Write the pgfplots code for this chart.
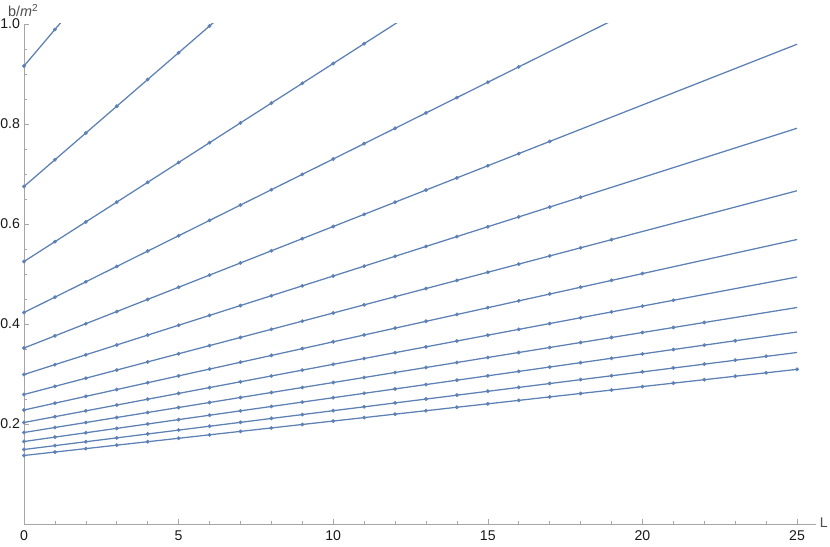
\documentclass[border=0pt]{standalone}
\usepackage{pgfplots}
\pgfplotsset{compat=1.18}
\usepackage{fontspec}
\setmainfont{Liberation Sans}
\definecolor{mblue}{rgb}{0.368,0.507,0.710}
\begin{document}
\begin{tikzpicture}
\begin{axis}[
    scale only axis,
    width=593.7pt, height=375pt,
    xmin=0, xmax=25.6, ymin=0, ymax=1,
    axis lines=left,
    axis line style={-, draw=black!35, line width=0.6pt},
    tick align=inside,
    tick style={black!35, line width=0.5pt},
    major tick length=4pt, minor tick length=2.3pt,
    xtick={0,5,...,25}, minor x tick num=4,
    ytick={0.2,0.4,0.6,0.8,1.0}, minor y tick num=3,
    /pgf/number format/assume math mode=true,
    ticklabel style={font=\fontsize{10.6}{12}\selectfont, text=black!90},
    xticklabel style={yshift=-1.5pt},
    yticklabel style={xshift=0.5pt, /pgf/number format/.cd, fixed, fixed zerofill, precision=1},
    clip mode=individual,
    ln/.style={mblue, line width=0.95pt, no marks},
    pt/.style={mblue, only marks, mark=*, mark size=1.25pt},
]
% line 1
\addplot[ln] coordinates {(0,0.916) (25,2.741)};
\addplot[pt] coordinates {(0,0.916) (1,0.989)};
% line 2
\addplot[ln] coordinates {(0,0.675) (25,2.0125)};
\addplot[pt] coordinates {(0,0.675) (1,0.7285) (2,0.782) (3,0.8355) (4,0.889) (5,0.9425) (6,0.996)};
% line 3
\addplot[ln] coordinates {(0,0.525) (25,1.515)};
\addplot[pt] coordinates {(0,0.525) (1,0.5646) (2,0.6042) (3,0.6438) (4,0.6834) (5,0.723)
  (6,0.7626) (7,0.8022) (8,0.8418) (9,0.8814) (10,0.921) (11,0.9606)};
% line 4
\addplot[ln] coordinates {(0,0.423) (25,1.1905)};
\addplot[pt] coordinates {(0,0.423) (1,0.4537) (2,0.4844) (3,0.5151) (4,0.5458) (5,0.5765)
  (6,0.6072) (7,0.6379) (8,0.6686) (9,0.6993) (10,0.730) (11,0.7607) (12,0.7914)
  (13,0.8221) (14,0.8528) (15,0.8835) (16,0.9142)};
% line 5
\addplot[ln] coordinates {(0,0.352) (25,0.9595)};
\addplot[pt] coordinates {(0,0.352) (1,0.3763) (2,0.4006) (3,0.4249) (4,0.4492) (5,0.4735)
  (6,0.4978) (7,0.5221) (8,0.5464) (9,0.5707) (10,0.595) (11,0.6193) (12,0.6436)
  (13,0.6679) (14,0.6922) (15,0.7165) (16,0.7408) (17,0.7651)};
% line 6
\addplot[ln] coordinates {(0,0.299) (25,0.7915)};
\addplot[pt] coordinates {(0,0.299) (1,0.3187) (2,0.3384) (3,0.3581) (4,0.3778) (5,0.3975)
  (6,0.4172) (7,0.4369) (8,0.4566) (9,0.4763) (10,0.496) (11,0.5157) (12,0.5354)
  (13,0.5551) (14,0.5748) (15,0.5945) (16,0.6142) (17,0.6339) (18,0.6536)};
% line 7
\addplot[ln] coordinates {(0,0.259) (25,0.6665)};
\addplot[pt] coordinates {(0,0.259) (1,0.2753) (2,0.2916) (3,0.3079) (4,0.3242) (5,0.3405)
  (6,0.3568) (7,0.3731) (8,0.3894) (9,0.4057) (10,0.422) (11,0.4383) (12,0.4546)
  (13,0.4709) (14,0.4872) (15,0.5035) (16,0.5198) (17,0.5361) (18,0.5524) (19,0.5687)};
% line 8
\addplot[ln] coordinates {(0,0.228) (25,0.569)};
\addplot[pt] coordinates {(0,0.228) (1,0.2417) (2,0.2553) (3,0.2690) (4,0.2826) (5,0.2963)
  (6,0.3099) (7,0.3236) (8,0.3372) (9,0.3509) (10,0.3645) (11,0.3782) (12,0.3918)
  (13,0.4055) (14,0.4191) (15,0.4328) (16,0.4464) (17,0.4601) (18,0.4737) (19,0.4874)
  (20,0.501)};
% line 9
\addplot[ln] coordinates {(0,0.203) (25,0.494)};
\addplot[pt] coordinates {(0,0.203) (1,0.2146) (2,0.2263) (3,0.2379) (4,0.2496) (5,0.2612)
  (6,0.2728) (7,0.2845) (8,0.2961) (9,0.3078) (10,0.3194) (11,0.3310) (12,0.3427)
  (13,0.3543) (14,0.3660) (15,0.3776) (16,0.3892) (17,0.4009) (18,0.4125) (19,0.4242)
  (20,0.4358) (21,0.4474)};
% line 10
\addplot[ln] coordinates {(0,0.183) (25,0.433)};
\addplot[pt] coordinates {(0,0.183) (1,0.193) (2,0.203) (3,0.213) (4,0.223) (5,0.233)
  (6,0.243) (7,0.253) (8,0.263) (9,0.273) (10,0.283) (11,0.293) (12,0.303)
  (13,0.313) (14,0.323) (15,0.333) (16,0.343) (17,0.353) (18,0.363) (19,0.373)
  (20,0.383) (21,0.393) (22,0.403)};
% line 11
\addplot[ln] coordinates {(0,0.165) (25,0.384)};
\addplot[pt] coordinates {(0,0.165) (1,0.1738) (2,0.1825) (3,0.1913) (4,0.2000) (5,0.2088)
  (6,0.2176) (7,0.2263) (8,0.2351) (9,0.2438) (10,0.2526) (11,0.2614) (12,0.2701)
  (13,0.2789) (14,0.2876) (15,0.2964) (16,0.3052) (17,0.3139) (18,0.3227) (19,0.3314)
  (20,0.3402) (21,0.3490) (22,0.3577) (23,0.3665)};
% line 12
\addplot[ln] coordinates {(0,0.149) (25,0.343)};
\addplot[pt] coordinates {(0,0.149) (1,0.1568) (2,0.1645) (3,0.1723) (4,0.1801) (5,0.1879)
  (6,0.1956) (7,0.2034) (8,0.2112) (9,0.2189) (10,0.2267) (11,0.2345) (12,0.2422)
  (13,0.2500) (14,0.2578) (15,0.2656) (16,0.2733) (17,0.2811) (18,0.2889) (19,0.2966)
  (20,0.3044) (21,0.3122) (22,0.3199) (23,0.3277) (24,0.3355)};
% line 13
\addplot[ln] coordinates {(0,0.137) (25,0.3093)};
\addplot[pt] coordinates {(0,0.137) (1,0.1439) (2,0.1508) (3,0.1577) (4,0.1646) (5,0.1715)
  (6,0.1783) (7,0.1852) (8,0.1921) (9,0.1990) (10,0.2059) (11,0.2128) (12,0.2197)
  (13,0.2266) (14,0.2335) (15,0.2404) (16,0.2472) (17,0.2541) (18,0.2610) (19,0.2679)
  (20,0.2748) (21,0.2817) (22,0.2886) (23,0.2955) (24,0.3024) (25,0.3093)};
% axis labels
\node[anchor=west, font=\fontsize{10.5}{12}\selectfont, text=black!70, inner sep=0pt, xshift=3pt, yshift=1pt]
  at (rel axis cs:1,0) {L};
\node[anchor=base, font=\fontsize{10.8}{12}\selectfont, text=black!70, inner sep=0pt, xshift=-0.5pt, yshift=5.5pt]
  at (rel axis cs:0,1) {b/\textit{m}\textsuperscript{2}};
\end{axis}
\pgfresetboundingbox
\path (-18pt,-16.5pt) rectangle (604.5pt,393pt);
\end{tikzpicture}
\end{document}
